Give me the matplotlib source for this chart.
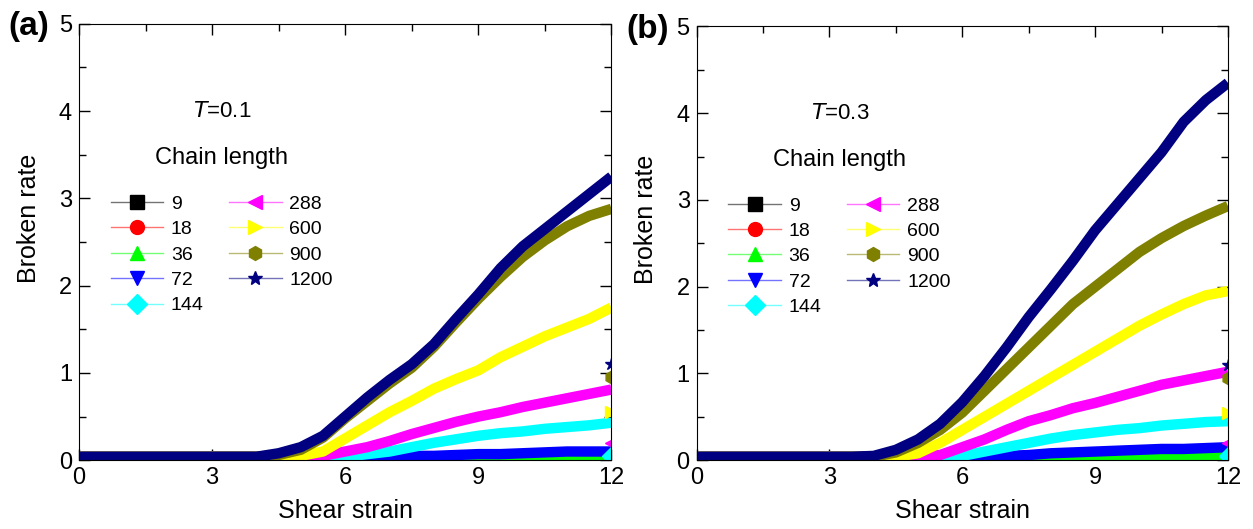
import matplotlib
matplotlib.use("Agg")
import matplotlib.pyplot as plt
from matplotlib.lines import Line2D
from matplotlib.colors import to_rgba
from matplotlib.ticker import MultipleLocator

plt.rcParams['font.family'] = ['Liberation Sans', 'DejaVu Sans']

# ---- data ----
chain_lengths = ["9", "18", "36", "72", "144", "288", "600", "900", "1200"]
colors = ["black", "red", "#00ff00", "blue", "cyan", "magenta", "yellow", "#808000", "#000080"]
markers = ["s", "o", "^", "v", "D", "<", ">", "h", "*"]

strain = [0, 0.5, 1, 1.5, 2, 2.5, 3, 3.5, 4, 4.5, 5, 5.5, 6, 6.5, 7, 7.5,
          8, 8.5, 9, 9.5, 10, 10.5, 11, 11.5, 12]

# panel (a), T=0.1
rate_a = {
    "9":    [0.02]*25,
    "18":   [0.02]*25,
    "36":   [0.03]*21 + [0.03, 0.03, 0.04, 0.04],
    "72":   [0.04]*13 + [0.04, 0.04, 0.05, 0.05, 0.06, 0.07, 0.07, 0.08, 0.09, 0.1, 0.1, 0.1],
    "144":  [0.04]*12 + [0.04, 0.07, 0.1, 0.15, 0.2, 0.24, 0.28, 0.31, 0.33, 0.36, 0.38, 0.4, 0.43],
    "288":  [0.04]*11 + [0.05, 0.1, 0.15, 0.22, 0.3, 0.37, 0.44, 0.5, 0.55, 0.61, 0.66, 0.71, 0.76, 0.81],
    "600":  [0.04]*10 + [0.05, 0.1, 0.25, 0.4, 0.55, 0.68, 0.82, 0.93, 1.03, 1.18, 1.3, 1.42, 1.52, 1.62, 1.75],
    "900":  [0.04]*8 + [0.04, 0.06, 0.12, 0.26, 0.48, 0.68, 0.88, 1.06, 1.3, 1.58, 1.85, 2.1, 2.33, 2.52, 2.68, 2.8, 2.88],
    "1200": [0.04]*8 + [0.04, 0.08, 0.15, 0.28, 0.5, 0.72, 0.92, 1.1, 1.33, 1.62, 1.9, 2.2, 2.45, 2.65, 2.85, 3.05, 3.25],
}
end_a = {"144": 0.05, "288": 0.2, "600": 0.55, "900": 0.95, "1200": 1.1}

# panel (b), T=0.3
rate_b = {
    "9":    [0.02]*25,
    "18":   [0.02]*25,
    "36":   [0.03]*19 + [0.03, 0.04, 0.04, 0.05, 0.05, 0.06],
    "72":   [0.04]*13 + [0.04, 0.05, 0.06, 0.08, 0.09, 0.1, 0.11, 0.12, 0.13, 0.13, 0.14, 0.15],
    "144":  [0.04]*12 + [0.05, 0.1, 0.15, 0.2, 0.25, 0.29, 0.32, 0.35, 0.37, 0.4, 0.42, 0.44, 0.45],
    "288":  [0.04]*10 + [0.04, 0.06, 0.15, 0.24, 0.35, 0.45, 0.52, 0.6, 0.66, 0.73, 0.8, 0.87, 0.92, 0.97, 1.02],
    "600":  [0.04]*9 + [0.04, 0.08, 0.2, 0.35, 0.5, 0.65, 0.8, 0.95, 1.1, 1.25, 1.4, 1.55, 1.68, 1.8, 1.9, 1.95],
    "900":  [0.04]*8 + [0.04, 0.09, 0.2, 0.35, 0.55, 0.8, 1.05, 1.3, 1.55, 1.8, 2.0, 2.2, 2.4, 2.56, 2.7, 2.82, 2.93],
    "1200": [0.04]*7 + [0.04, 0.05, 0.12, 0.24, 0.42, 0.67, 0.97, 1.3, 1.65, 1.97, 2.3, 2.65, 2.95, 3.25, 3.55, 3.9, 4.15, 4.35],
}
end_b = {"144": 0.05, "288": 0.2, "600": 0.55, "900": 0.95, "1200": 1.1}

panels = [
    ("(a)", "0.1", rate_a, end_a, [0.063, 0.130, 0.425, 0.825]),
    ("(b)", "0.3", rate_b, end_b, [0.556, 0.130, 0.424, 0.820]),
]

fig = plt.figure(figsize=(12.53, 5.29), dpi=100)

for tag, t_val, rates, ends, rect in panels:
    ax = fig.add_axes(rect)
    for name, c, m in zip(chain_lengths, colors, markers):
        ax.plot(strain, rates[name], color=c, lw=7.5, solid_capstyle='butt')
        if name in ends:
            ax.plot([12], [ends[name]], marker=m, color=c, ms=9, ls='none')
    ax.set_xlim(0, 12)
    ax.set_ylim(0, 5)
    ax.xaxis.set_major_locator(MultipleLocator(3))
    ax.xaxis.set_minor_locator(MultipleLocator(1.5))
    ax.yaxis.set_major_locator(MultipleLocator(1))
    ax.yaxis.set_minor_locator(MultipleLocator(0.5))
    ax.tick_params(which='both', direction='in', top=True, right=True, labelsize=17)
    ax.tick_params(which='major', length=8, width=1, pad=5)
    ax.tick_params(which='minor', length=5, width=1)
    ax.set_xlabel("Shear strain", fontsize=18, labelpad=7)
    ax.set_ylabel("Broken rate", fontsize=18)
    ax.yaxis.set_label_coords(-0.072, 0.555)

    ax.text(0.215, 0.80, r"$\it{T}$" + "=" + t_val, transform=ax.transAxes,
            fontsize=16, va='center')
    ax.text(0.143, 0.693, "Chain length", transform=ax.transAxes,
            fontsize=17, va='center')
    fig.text(rect[0] - 0.056, rect[1] + rect[3] - 0.005, tag, fontsize=24,
             fontweight='bold', va='center')

    handles = [Line2D([], [], color=to_rgba(c, 0.55), marker=m, lw=1.0, ms=10,
                      markerfacecolor=c, markeredgecolor=c)
               for c, m in zip(colors, markers)]
    ax.legend(handles, chain_lengths, ncol=2, frameon=False, fontsize=14,
              loc='upper left', bbox_to_anchor=(0.045, 0.625), handlelength=2.7,
              labelspacing=0.4, columnspacing=1.3, handletextpad=0.4,
              borderaxespad=0)

fig.savefig("out.png", dpi=100)
